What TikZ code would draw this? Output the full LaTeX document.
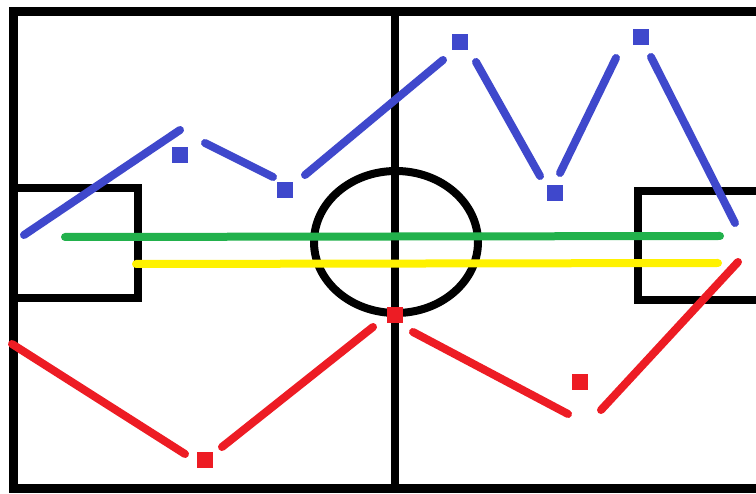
\documentclass[tikz,border=0pt]{standalone}
\definecolor{pblue}{RGB}{63,72,204}
\definecolor{pred}{RGB}{237,28,36}
\definecolor{pgreen}{RGB}{34,177,76}
\definecolor{pyellow}{RGB}{255,242,0}
\begin{document}
\begin{tikzpicture}[x=1pt,y=-1pt,
  fieldline/.style={draw=black,line width=8pt},
  bluepath/.style={draw=pblue,line width=8pt,line cap=round},
  redpath/.style={draw=pred,line width=8pt,line cap=round},
  bluemark/.style={fill=pblue,draw=none,minimum size=16pt,inner sep=0pt,shape=rectangle},
  redmark/.style={fill=pred,draw=none,minimum size=16pt,inner sep=0pt,shape=rectangle}]
\useasboundingbox (0,0) rectangle (756,494);
\clip (0,0) rectangle (756,494);
\fill[white] (0,0) rectangle (756,494);
% field
\draw[fieldline,line width=9pt] (13,12) rectangle (765,489);
\draw[fieldline] (395,12) -- (395,489);
\draw[fieldline] (13,188) -- (138,188) -- (138,298) -- (13,298);
\draw[fieldline] (765,191) -- (638,191) -- (638,300) -- (765,300);
\draw[fieldline] (396,242) ellipse [x radius=82, y radius=71];
% green and yellow lines
\coordinate (g1) at (65,237);
\coordinate (g2) at (720,236);
\draw[draw=pgreen,line width=8pt,line cap=round] (g1) -- (g2);
\coordinate (y1) at (136,264);
\coordinate (y2) at (718,263);
\draw[draw=pyellow,line width=8pt,line cap=round] (y1) -- (y2);
% blue path
\node[bluemark] (b1) at (180,155) {};
\node[bluemark] (b2) at (285,190) {};
\node[bluemark] (b3) at (460,42) {};
\node[bluemark] (b4) at (555,193) {};
\node[bluemark] (b5) at (641,37) {};
\coordinate (bs0) at (24,235);
\coordinate (be1) at (180,130);
\coordinate (bs2) at (205,143);
\coordinate (be2) at (273,177);
\coordinate (bs3) at (305,175);
\coordinate (be3) at (443,60);
\coordinate (bs4) at (476,62);
\coordinate (be4) at (540,176);
\coordinate (bs5) at (560,173);
\coordinate (be5) at (616,58);
\coordinate (bs6) at (651,57);
\coordinate (be6) at (735,223);
\draw[bluepath] (bs0) -- (be1);
\draw[bluepath] (bs2) -- (be2);
\draw[bluepath] (bs3) -- (be3);
\draw[bluepath] (bs4) -- (be4);
\draw[bluepath] (bs5) -- (be5);
\draw[bluepath] (bs6) -- (be6);
% red path
\node[redmark] (r1) at (205,460) {};
\node[redmark] (r2) at (395,315) {};
\node[redmark] (r3) at (580,382) {};
\coordinate (rs0) at (12,344);
\coordinate (re1) at (185,454);
\coordinate (rs2) at (222,447);
\coordinate (re2) at (373,327);
\coordinate (rs3) at (413,332);
\coordinate (re3) at (568,414);
\coordinate (rs4) at (601,410);
\coordinate (re4) at (738,262);
\draw[redpath] (rs0) -- (re1);
\draw[redpath] (rs2) -- (re2);
\draw[redpath] (rs3) -- (re3);
\draw[redpath] (rs4) -- (re4);
\end{tikzpicture}
\end{document}
